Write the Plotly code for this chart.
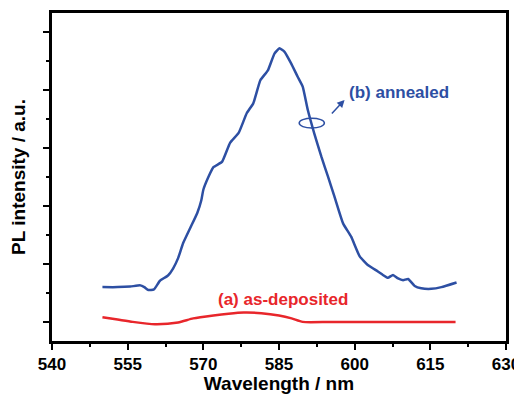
import plotly.graph_objects as go

# Data
wl_a = [550, 553, 556, 560.4, 565, 568, 572, 575, 578, 581.5, 585, 587.5, 589.7, 595, 600, 605, 610, 615, 620]
pl_a = [0.08, 0.04, 0.0, -0.04, -0.01, 0.06, 0.11, 0.14, 0.16, 0.15, 0.11, 0.06, 0.0, 0.0, 0.0, 0.0, 0.0, 0.0, 0.0]

wl_b = [550, 553, 555.5, 557.5, 558.3, 559.1, 560.2, 561.4, 563, 564, 565, 566, 567.4, 568.8, 569.6, 570.0, 571.0,
        572.0, 573.7, 575.3, 577.0, 578.6, 579.9, 581.3, 582.8, 584.1, 585.1, 586.1, 587.4, 588.7, 589.7, 590.7,
        592.0, 593.4, 594.7, 596.0, 597.7, 599.3, 601.0, 602.6, 604.6, 605.6, 606.6, 607.6, 608.6, 609.6, 610.6,
        611.9, 613.2, 615.2, 617.2, 620.2]
pl_b = [0.60, 0.60, 0.61, 0.63, 0.60, 0.55, 0.56, 0.71, 0.80, 0.92, 1.10, 1.36, 1.62, 1.88, 2.10, 2.28, 2.50,
        2.67, 2.76, 3.09, 3.26, 3.60, 3.77, 4.17, 4.34, 4.63, 4.72, 4.66, 4.46, 4.23, 4.06, 3.66,
        3.25, 2.85, 2.51, 2.16, 1.70, 1.47, 1.13, 0.98, 0.87, 0.81, 0.76, 0.81, 0.75, 0.72, 0.74,
        0.62, 0.58, 0.57, 0.60, 0.68]

x_ticks = [540, 555, 570, 585, 600, 615, 630]

RED = "#e8262b"
BLUE = "#2d4fa3"
FONT = "Liberation Sans"

fig = go.Figure()
fig.add_trace(go.Scatter(x=wl_a, y=pl_a, mode="lines", line=dict(color=RED, width=2.5, shape="spline", smoothing=0.6), showlegend=False))
fig.add_trace(go.Scatter(x=wl_b, y=pl_b, mode="lines", line=dict(color=BLUE, width=2.5, shape="spline", smoothing=0.4), showlegend=False))

fig.add_shape(type="circle", xref="x", yref="y", x0=589.0, x1=594.0, y0=3.345, y1=3.515,
              line=dict(color=BLUE, width=1.5))
fig.add_annotation(x=598.0, y=3.83, ax=595.2, ay=3.57, xref="x", yref="y", axref="x", ayref="y",
                   text="", showarrow=True, arrowhead=2, arrowsize=1, arrowwidth=1.5, arrowcolor=BLUE)
fig.add_annotation(x=598.5, y=3.95, xref="x", yref="y", text="<b>(b) annealed</b>", showarrow=False,
                   xanchor="left", font=dict(family=FONT, size=17, color=BLUE))
fig.add_annotation(x=585.8, y=0.38, xref="x", yref="y", text="<b>(a) as-deposited</b>", showarrow=False,
                   font=dict(family=FONT, size=17, color=RED))

axis_common = dict(showline=True, linecolor="black", linewidth=2.5, mirror=True, showgrid=False, zeroline=False,
                   ticks="outside", tickcolor="black", tickwidth=2, ticklen=6, automargin=False)

fig.update_xaxes(range=[540, 630], tickvals=x_ticks, ticktext=[str(v) for v in x_ticks],
                 minor=dict(dtick=7.5, tick0=540, ticks="outside", ticklen=3, tickcolor="black", tickwidth=1.5),
                 title=dict(text="<b>Wavelength / nm</b>", font=dict(family=FONT, size=19, color="black"), standoff=7),
                 tickfont=dict(family=FONT, size=17, color="black", weight="bold"), **axis_common)
fig.update_yaxes(range=[-0.33, 5.33], tickvals=[0, 1, 2, 3, 4, 5], showticklabels=False,
                 minor=dict(dtick=0.5, tick0=0, ticks="outside", ticklen=3, tickcolor="black", tickwidth=1.5),
                 title=dict(text="<b>PL intensity / a.u.</b>", font=dict(family=FONT, size=19, color="black"), standoff=14),
                 **axis_common)

# the page adds an 8px body margin, so the figure is sized to fit the 522x394 window
fig.update_layout(width=514, height=386, margin=dict(l=44, r=16, t=5, b=53),
                  plot_bgcolor="white", paper_bgcolor="white",
                  font=dict(family=FONT, color="black"))

fig.write_html("out.html")
